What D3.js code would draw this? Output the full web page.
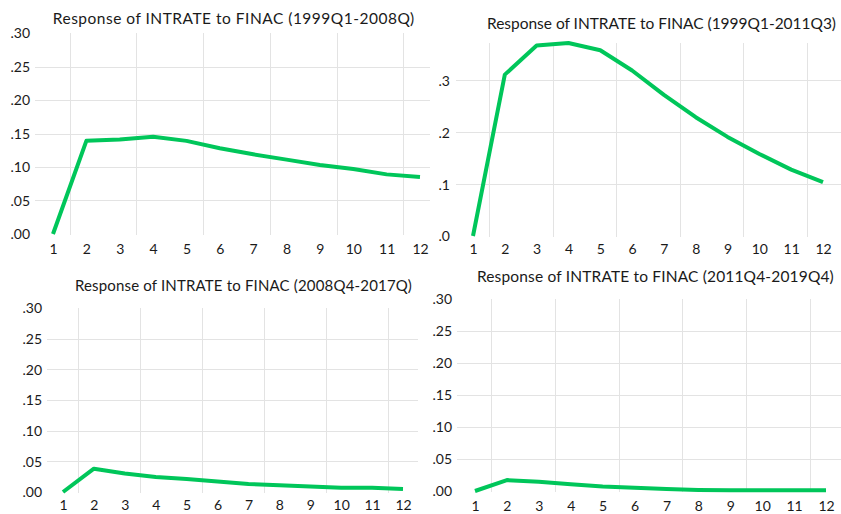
<!DOCTYPE html>
<html>
<head>
<meta charset="utf-8">
<script src="https://cdn.jsdelivr.net/npm/d3@7"></script>
<style>
  html, body { margin: 0; padding: 0; background: #ffffff; }
  svg { display: block; }
  text { font-family: Lato, "Open Sans", "Liberation Sans", sans-serif; fill: #1a1a1a; }
</style>
</head>
<body>
<svg id="chart" width="841" height="514"></svg>
<script>
// Impulse responses of INTRATE to a FINAC shock, horizons 1..12, by sample window
const periods = [1, 2, 3, 4, 5, 6, 7, 8, 9, 10, 11, 12];

const titles = [
  "Response of INTRATE to FINAC (1999Q1-2008Q)",
  "Response of INTRATE to FINAC (1999Q1-2011Q3)",
  "Response of INTRATE to FINAC (2008Q4-2017Q)",
  "Response of INTRATE to FINAC (2011Q4-2019Q4)"
];

const resp1999_2008 = [0.000, 0.139, 0.141, 0.145, 0.139, 0.128, 0.119, 0.111, 0.103, 0.097, 0.089, 0.085];
const resp1999_2011 = [0.000, 0.311, 0.367, 0.372, 0.358, 0.319, 0.272, 0.229, 0.191, 0.158, 0.128, 0.104];
const resp2008_2017 = [0.000, 0.038, 0.030, 0.0245, 0.021, 0.017, 0.013, 0.011, 0.009, 0.007, 0.007, 0.005];
const resp2011_2019 = [0.000, 0.017, 0.0146, 0.0105, 0.007, 0.005, 0.003, 0.0015, 0.001, 0.001, 0.001, 0.001];

const yTicksFine = [0, 0.05, 0.10, 0.15, 0.20, 0.25, 0.30];
const yTicksCoarse = [0, 0.1, 0.2, 0.3];

const series = [resp1999_2008, resp1999_2011, resp2008_2017, resp2011_2019];

// Panel geometry (pixels)
const panels = [
  { x1: 53,  x12: 420, left: 35,  right: 430, top: 33,  bottom: 234, yMax: 0.30,  ticks: yTicksFine,   fmt: 2,
    labelRight: 30,  xLabelY: 254, title: { cx: 234, y: 23.5, w: 362, size: 15.5 } },
  { x1: 473, x12: 823, left: 456, right: 841, top: 43,  bottom: 236, yMax: 0.372, ticks: yTicksCoarse, fmt: 1,
    labelRight: 450, xLabelY: 254, title: { cx: 661.5, y: 29,   w: 349, size: 15.5 } },
  { x1: 63,  x12: 403, left: 47,  right: 418, top: 308, bottom: 492, yMax: 0.30,  ticks: yTicksFine,   fmt: 2,
    labelRight: 42,  xLabelY: 510, title: { cx: 243.5, y: 290.5, w: 337, size: 15 } },
  { x1: 475, x12: 826, left: 457, right: 841, top: 299, bottom: 491, yMax: 0.30,  ticks: yTicksFine,   fmt: 2,
    labelRight: 452, xLabelY: 511, title: { cx: 655.5, y: 282,  w: 357, size: 15.5 } }
];

const svg = d3.select("#chart");
const lineColor = "#00c65a";
const gridColor = "#e3e3e3";

function dotFormat(digits) {
  const f = d3.format("." + digits + "f");
  return v => f(v).replace(/^0\./, ".");
}

panels.forEach((p, k) => {
  const data = series[k];
  const x = d3.scaleLinear().domain([1, 12]).range([p.x1, p.x12]);
  const y = d3.scaleLinear().domain([0, p.yMax]).range([p.bottom, p.top]);
  const g = svg.append("g");

  // horizontal grid at interior ticks
  const inner = p.ticks.filter(t => t > 0 && t < p.yMax - 1e-9 && y(t) - p.top > 2);
  g.append("g").selectAll("line").data(inner).join("line")
    .attr("x1", p.left).attr("x2", p.right)
    .attr("y1", d => Math.round(y(d)) + 0.5).attr("y2", d => Math.round(y(d)) + 0.5)
    .attr("stroke", gridColor).attr("stroke-width", 1);

  // vertical grid between every other pair of periods
  const vgrid = periods.filter(d => d % 2 === 1).map(d => d + 0.5);
  g.append("g").selectAll("line").data(vgrid).join("line")
    .attr("x1", d => Math.round(x(d)) + 0.5).attr("x2", d => Math.round(x(d)) + 0.5)
    .attr("y1", p.top).attr("y2", p.bottom + 1)
    .attr("stroke", gridColor).attr("stroke-width", 1);

  // y axis labels
  const yAxis = d3.axisLeft(y).tickValues(p.ticks).tickSize(0).tickPadding(0).tickFormat(dotFormat(p.fmt));
  const ya = g.append("g").attr("transform", `translate(${p.labelRight},0)`).call(yAxis);
  ya.select(".domain").remove();
  ya.selectAll("text").attr("font-size", 14).attr("fill", "#1a1a1a")
    .attr("font-family", "Lato, 'Open Sans', sans-serif").attr("dy", "0.35em");

  // x axis labels
  const xAxis = d3.axisBottom(x).tickValues(periods).tickSize(0).tickPadding(0).tickFormat(d3.format("d"));
  const xa = g.append("g").attr("transform", `translate(0,${p.xLabelY})`).call(xAxis);
  xa.select(".domain").remove();
  xa.selectAll("text").attr("font-size", 14).attr("fill", "#1a1a1a")
    .attr("font-family", "Lato, 'Open Sans', sans-serif").attr("dy", 0).attr("y", 0);

  // response line
  const line = d3.line().x((d, i) => x(periods[i])).y(d => y(d));
  g.append("path").datum(data)
    .attr("d", line)
    .attr("fill", "none")
    .attr("stroke", lineColor)
    .attr("stroke-width", 4)
    .attr("stroke-linejoin", "round");

  // title: tighten letter spacing so the line spans its target width
  const t = g.append("text")
    .attr("x", p.title.cx).attr("y", p.title.y)
    .attr("text-anchor", "middle")
    .attr("font-size", p.title.size)
    .text(titles[k]);
  const natural = t.node().getComputedTextLength();
  const n = titles[k].length;
  const spacing = (p.title.w - natural) / n;
  t.attr("letter-spacing", spacing.toFixed(3))
   .attr("dx", (-spacing / 2).toFixed(3));
});
</script>
</body>
</html>
